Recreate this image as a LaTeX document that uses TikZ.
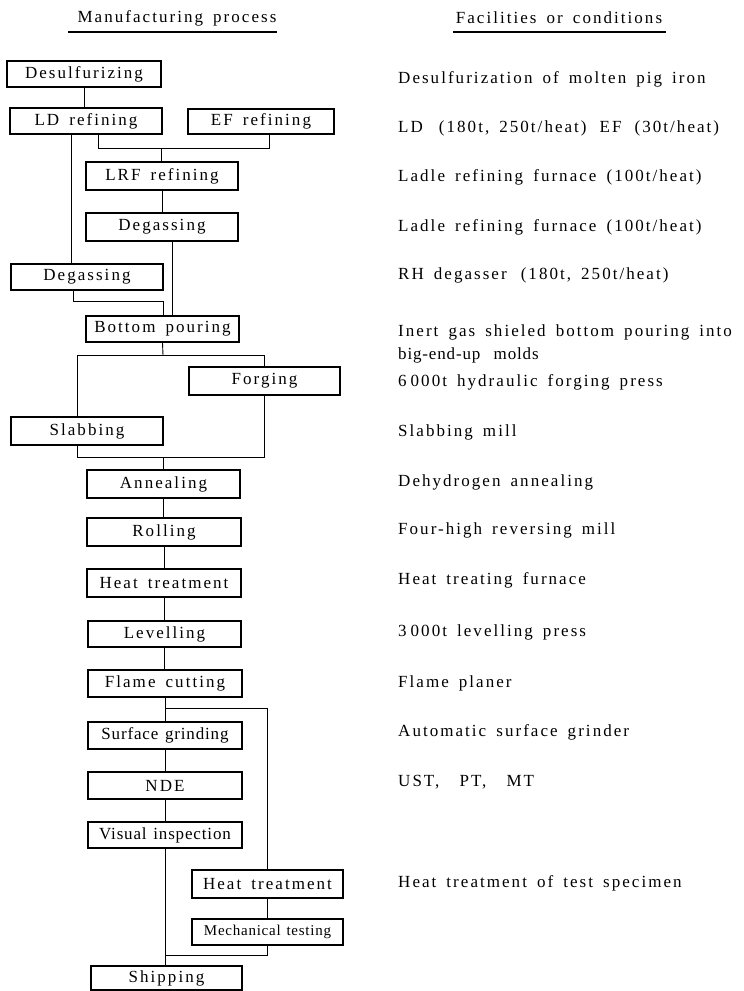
\documentclass[tikz,border=0pt]{standalone}
\usepackage{fontspec}
\setmainfont[LetterSpace=12,WordSpace=1.6]{Liberation Serif}
\newfontfamily\tightfont[LetterSpace=5,WordSpace=1.3]{Liberation Serif}
\begin{document}
\begin{tikzpicture}[x=1pt,y=-1pt,
  box/.style={draw, line width=1.6pt, minimum width=153pt, minimum height=27pt, inner sep=0pt, font=\fontsize{17}{19}\selectfont},
  tbox/.style={box, font=\tightfont\fontsize{17}{19}\selectfont},
  sbox/.style={box, font=\tightfont\fontsize{15}{17}\selectfont},
  conn/.style={line width=0.9pt},
  info/.style={anchor=west, inner sep=0pt, font=\fontsize{17}{23}\selectfont, align=left},
  head/.style={inner sep=0pt, font=\fontsize{17}{19}\selectfont},
  uline/.style={line width=1.2pt}]
\useasboundingbox (0,0) rectangle (744,991);

% headings
\node[head] (h1) at (177,18) {Manufacturing process};
\node[head] (h2) at (559,18) {Facilities or conditions};
\coordinate (u1a) at (68,32); \coordinate (u1b) at (277,32);
\coordinate (u2a) at (453,32); \coordinate (u2b) at (666,32);
\draw[uline] (u1a) -- (u1b);
\draw[uline] (u2a) -- (u2b);

% process boxes
\node[box, minimum width=154pt, minimum height=26pt] (desulf) at (84,74) {Desulfurizing};
\node[box, minimum width=152pt, minimum height=26pt] (ld) at (86,121) {LD refining};
\node[box, minimum width=146pt, minimum height=25pt] (ef) at (261,121.5) {EF refining};
\node[box, minimum width=152pt, minimum height=28pt] (lrf) at (162,176) {LRF refining};
\node[box, minimum width=152pt, minimum height=28pt] (degA) at (162,227) {Degassing};
\node[box, minimum width=152pt, minimum height=26pt] (degB) at (87,277) {Degassing};
\node[box, minimum width=153pt, minimum height=26pt] (bp) at (162.5,329) {Bottom pouring};
\node[box, minimum width=151pt, minimum height=28pt] (forg) at (264.5,381) {Forging};
\node[box, minimum width=152pt, minimum height=28pt] (slab) at (87,431) {Slabbing};
\node[box, minimum width=153pt, minimum height=28pt] (ann) at (163.5,484) {Annealing};
\node[box, minimum width=154pt, minimum height=28pt] (roll) at (164,532) {Rolling};
\node[box, minimum width=154pt, minimum height=28pt] (ht) at (164,583) {Heat treatment};
\node[box, minimum width=153pt, minimum height=26pt] (lev) at (164.5,634) {Levelling};
\node[box, minimum width=154pt, minimum height=27pt] (flame) at (165,683.5) {Flame cutting};
\node[tbox, minimum width=154pt, minimum height=27pt] (surf) at (165,735.5) {Surface grinding};
\node[box, minimum width=154pt, minimum height=27pt] (nde) at (165,785.5) {NDE};
\node[tbox, minimum width=154pt, minimum height=26pt] (vis) at (165,835) {Visual inspection};
\node[box, minimum width=151pt, minimum height=28pt] (ht2) at (267.5,884) {Heat treatment};
\node[sbox, minimum width=151pt, minimum height=26pt] (mech) at (267.5,932) {Mechanical testing};
\node[box, minimum width=151pt, minimum height=24pt] (ship) at (166.5,978) {Shipping};

% junction coordinates
\coordinate (j1) at (161,148);
\coordinate (j2) at (163,301);
\coordinate (j3) at (163,355);
\coordinate (j4) at (163,457);
\coordinate (j5) at (165,708);
\coordinate (j6) at (165,955);

% connectors
\draw[conn] (desulf.south) -- (desulf.south |- ld.north);
\draw[conn] ([xshift=12pt]ld.south) |- ([xshift=8pt]ef.south |- j1) -- ([xshift=8pt]ef.south);
\draw[conn] (j1) -- (j1 |- lrf.north);
\draw[conn] ([xshift=-15pt]ld.south) -- ([xshift=-15pt]ld.south |- degB.north);
\draw[conn] (lrf.south) -- (lrf.south |- degA.north);
\draw[conn] ([xshift=10pt]degA.south) -- ([xshift=10pt]degA.south |- bp.north);
\draw[conn] ([xshift=-14pt]degB.south) |- (j2) -- (j2 |- bp.north);
\draw[conn] (bp.south) -- (j3);
\draw[conn] ([xshift=-10pt]slab.north) |- (forg.north |- j3) -- (forg.north);
\draw[conn] ([xshift=-10pt]slab.south) |- (forg.south |- j4) -- (forg.south);
\draw[conn] (j4) -- (j4 |- ann.north);
\draw[conn] (ann.south) -- (ann.south |- roll.north);
\draw[conn] (roll.south) -- (roll.south |- ht.north);
\draw[conn] (ht.south) -- (ht.south |- lev.north);
\draw[conn] (lev.south) -- (lev.south |- flame.north);
\draw[conn] (flame.south) -- (flame.south |- surf.north);
\draw[conn] (j5) -| (ht2.north);
\draw[conn] (surf.south) -- (surf.south |- nde.north);
\draw[conn] (nde.south) -- (nde.south |- vis.north);
\draw[conn] (vis.south) -- (vis.south |- ship.north);
\draw[conn] (ht2.south) -- (ht2.south |- mech.north);
\draw[conn] (mech.south) |- (j6);

% facilities / conditions
\node[info] (f1) at (398,79) {Desulfurization of molten pig iron};
\node[info] (f2) at (398,128) {LD\hspace{6pt} (180t, 250t/heat)\hspace{3pt} EF\hspace{3pt} (30t/heat)};
\node[info] (f3) at (398,177) {Ladle refining furnace (100t/heat)};
\node[info] (f4) at (398,227) {Ladle refining furnace (100t/heat)};
\node[info] (f5) at (398,275) {RH degasser\hspace{4pt} (180t, 250t/heat)};
\node[info] (f6) at (398,343.5) {Inert gas shieled bottom pouring into\\{\tightfont\fontsize{17}{23}\selectfont big-end-up\ \ molds}};
\node[info] (f7) at (398,382) {6\hspace{4pt}000t hydraulic forging press};
\node[info] (f8) at (398,432) {Slabbing mill};
\node[info] (f9) at (398,482) {Dehydrogen annealing};
\node[info] (f10) at (398,530) {Four-high reversing mill};
\node[info] (f11) at (398,580) {Heat treating furnace};
\node[info] (f12) at (398,632) {3\hspace{4pt}000t levelling press};
\node[info] (f13) at (398,683) {Flame planer};
\node[info] (f14) at (398,732) {Automatic surface grinder};
\node[info] (f15) at (398,782) {UST,\ \ PT,\ \ MT};
\node[info] (f16) at (398,883) {Heat treatment of test specimen};
\end{tikzpicture}
\end{document}
